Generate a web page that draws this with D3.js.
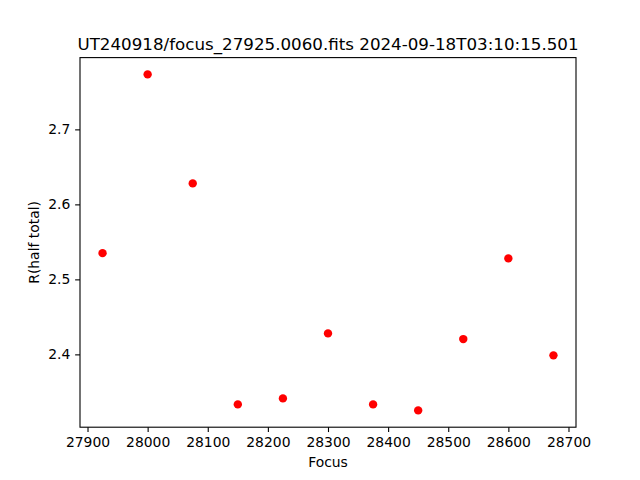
<!DOCTYPE html>
<html><head><meta charset="utf-8">
<script src="https://cdn.jsdelivr.net/npm/d3@7"></script>
<style>body{margin:0;background:#fff}svg{display:block}text{font-family:"DejaVu Sans",sans-serif;fill:#000}</style>
</head><body>
<script>
const focusValues = [27925, 28000, 28075, 28150, 28225, 28300, 28375, 28450, 28525, 28600, 28675];
const rHalfTotal = [2.535, 2.7733, 2.628, 2.3333, 2.3413, 2.428, 2.3333, 2.3253, 2.4204, 2.528, 2.3987];
const xTicks = [27900, 28000, 28100, 28200, 28300, 28400, 28500, 28600, 28700];
const yTicks = [2.4, 2.5, 2.6, 2.7];
const titleText = "UT240918/focus_27925.0060.fits 2024-09-18T03:10:15.501";
const xLabel = "Focus";
const yLabel = "R(half total)";

const W = 640, H = 480;
const L = 80, R = 576, T = 57.6, B = 427.2;
const svg = d3.select("body").append("svg").attr("width", W).attr("height", H);

const xmin = d3.min(focusValues), xmax = d3.max(focusValues);
const ymin = d3.min(rHalfTotal), ymax = d3.max(rHalfTotal);
const xp = (xmax - xmin) * 0.05, yp = (ymax - ymin) * 0.05;
const x = d3.scaleLinear().domain([xmin - xp, xmax + xp]).range([L, R]);
const y = d3.scaleLinear().domain([ymin - yp, ymax + yp]).range([B, T]);

const xAxis = svg.append("g").attr("transform", `translate(0,${B})`)
  .call(d3.axisBottom(x).tickValues(xTicks).tickFormat(d3.format("d")).tickSize(4.86).tickPadding(4.86));
const yAxis = svg.append("g").attr("transform", `translate(${L},0)`)
  .call(d3.axisLeft(y).tickValues(yTicks).tickFormat(d3.format(".1f")).tickSize(4.86).tickPadding(4.86));
[xAxis, yAxis].forEach(g => {
  g.select(".domain").remove();
  g.selectAll("line").attr("stroke", "#000").attr("stroke-width", 1.1);
  g.selectAll("text").attr("font-size", "13.9px").attr("font-family", "DejaVu Sans").attr("fill", "#000");
});

svg.append("rect").attr("x", L).attr("y", T).attr("width", R - L).attr("height", B - T)
  .attr("fill", "none").attr("stroke", "#000").attr("stroke-width", 1.1);

svg.append("g").selectAll("circle").data(focusValues).join("circle")
  .attr("cx", (d) => x(d)).attr("cy", (d, i) => y(rHalfTotal[i]))
  .attr("r", 4.2).attr("fill", "#ff0000");

svg.append("text").attr("x", (L + R) / 2).attr("y", 50).attr("text-anchor", "middle")
  .attr("font-size", "16.7px").text(titleText);
svg.append("text").attr("x", (L + R) / 2).attr("y", 467).attr("text-anchor", "middle")
  .attr("font-size", "13.9px").text(xLabel);
svg.append("text").attr("transform", `translate(39,${(T + B) / 2}) rotate(-90)`).attr("text-anchor", "middle")
  .attr("font-size", "13.9px").text(yLabel);
</script>
</body></html>
